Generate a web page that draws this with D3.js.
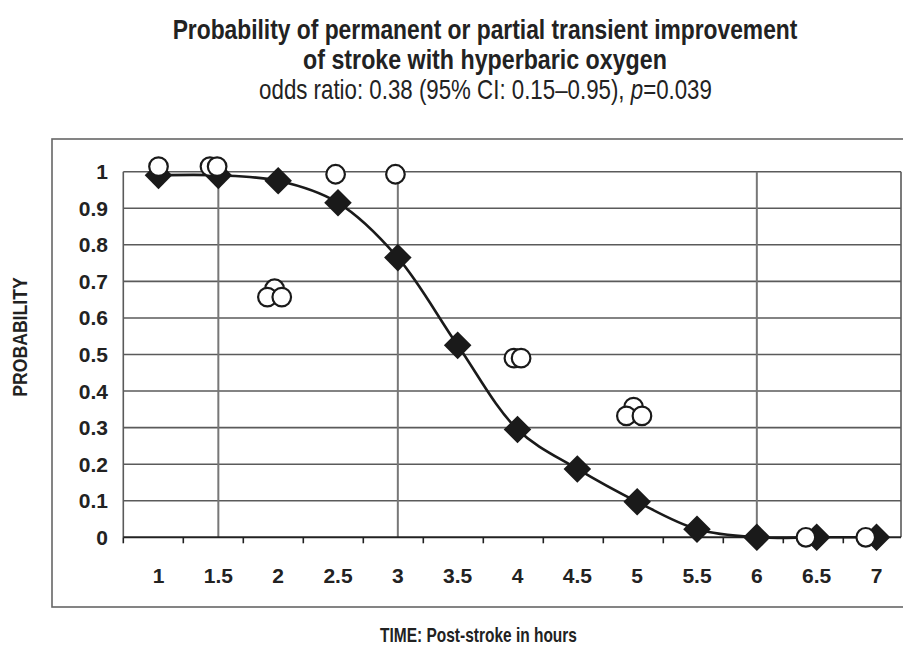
<!DOCTYPE html>
<html>
<head>
<meta charset="utf-8">
<script src="https://cdn.jsdelivr.net/npm/d3@7"></script>
<style>
  html, body { margin: 0; padding: 0; background: #fff; }
  svg { display: block; }
  .narrow { font-family: "Liberation Sans", Arial, sans-serif; }
  .tick-lbl { font-family: "Liberation Sans", Arial, sans-serif; font-weight: bold; font-size: 21px; fill: #222; }
</style>
</head>
<body>
<svg id="chart" width="903" height="646"></svg>
<script>
// -----------------------------------------------------------------------------
// Hyperbaric oxygen stroke improvement: fitted probability vs observed points
// -----------------------------------------------------------------------------

const TIMES = [1, 1.5, 2, 2.5, 3, 3.5, 4, 4.5, 5, 5.5, 6, 6.5, 7];
const TIME_LABELS = ["1", "1.5", "2", "2.5", "3", "3.5", "4", "4.5", "5", "5.5", "6", "6.5", "7"];

// fitted logistic curve (filled diamonds)
const FIT_PROB = [0.99, 0.99, 0.975, 0.915, 0.765, 0.525, 0.295, 0.187, 0.097, 0.022, 0, 0, 0];

// observed patients (open circles), slightly jittered in time
const OBS_TIME = [1.0, 1.43, 1.49, 1.97, 1.91, 2.03, 2.48, 2.98, 3.97, 4.03, 4.97, 4.91, 5.04, 6.41, 6.91];
const OBS_PROB = [1.014, 1.014, 1.014, 0.68, 0.657, 0.657, 0.993, 0.993, 0.49, 0.49, 0.356, 0.332, 0.332, 0, 0];

const Y_TICKS = [0, 0.1, 0.2, 0.3, 0.4, 0.5, 0.6, 0.7, 0.8, 0.9, 1];
const Y_LABELS = ["0", "0.1", "0.2", "0.3", "0.4", "0.5", "0.6", "0.7", "0.8", "0.9", "1"];
const REF_TIMES = [1.5, 3, 6];   // vertical reference lines

const TITLE_LINES = [
  "Probability of permanent or partial transient improvement",
  "of stroke with hyperbaric oxygen",
];

const PLOT = { left: 123.3, right: 901, top: 171.7, bottom: 537.3 };

const svg = d3.select("#chart");

const x = d3.scaleLinear().domain([1, 7]).range([158.5, 876.5]);
const xBand = d3.scaleBand().domain(TIMES).range([PLOT.left, PLOT.left + 60 * TIMES.length]);
const y = d3.scaleLinear().domain([0, 1]).range([PLOT.bottom, PLOT.top]);

// the original uses a condensed face; squeeze a regular one to the same width
function condensed(g, cx, cy, targetW, rotate) {
  const w = g.node().getBBox().width;
  const k = targetW / w;
  g.attr("transform", `translate(${cx},${cy})` + (rotate ? ` rotate(${rotate})` : "") + ` scale(${k},1)`);
}

// outer frame
svg.append("rect")
  .attr("x", 52).attr("y", 139).attr("width", 870).attr("height", 468)
  .attr("fill", "none").attr("stroke", "#666").attr("stroke-width", 1.6);

// titles
const TITLE_W = [625, 364];
TITLE_LINES.forEach((t, i) => {
  const g = svg.append("g");
  g.append("text").attr("class", "narrow")
    .attr("text-anchor", "middle").attr("fill", "#222")
    .attr("font-weight", "bold").attr("font-size", 27).text(t);
  condensed(g, 485, 39 + i * 30, TITLE_W[i]);
});
const subG = svg.append("g");
const sub = subG.append("text").attr("class", "narrow")
  .attr("text-anchor", "middle").attr("font-size", 27).attr("fill", "#222");
sub.append("tspan").text("odds ratio: 0.38 (95% CI: 0.15\u20130.95), ");
sub.append("tspan").attr("font-style", "italic").text("p");
sub.append("tspan").text("=0.039");
condensed(subG, 485.5, 99, 453);

// horizontal gridlines
svg.append("g").selectAll("line").data(Y_TICKS.filter((d) => d > 0)).join("line")
  .attr("x1", PLOT.left).attr("x2", PLOT.right)
  .attr("y1", (d) => y(d)).attr("y2", (d) => y(d))
  .attr("stroke", "#5a5a5a").attr("stroke-width", 1.6);

// left and right plot borders
svg.append("g").selectAll("line").data([PLOT.left, PLOT.right]).join("line")
  .attr("x1", (d) => d).attr("x2", (d) => d)
  .attr("y1", y(1)).attr("y2", y(0))
  .attr("stroke", "#5a5a5a").attr("stroke-width", 1.6);

// vertical reference lines
svg.append("g").selectAll("line").data(REF_TIMES).join("line")
  .attr("x1", (d) => x(d)).attr("x2", (d) => x(d))
  .attr("y1", y(1)).attr("y2", y(0))
  .attr("stroke", "#777").attr("stroke-width", 2);

// x axis line with between-category tick marks
const xAxis = svg.append("g");
xAxis.append("line")
  .attr("x1", PLOT.left).attr("x2", PLOT.right)
  .attr("y1", y(0)).attr("y2", y(0))
  .attr("stroke", "#222").attr("stroke-width", 2);
xAxis.selectAll("line.tk").data(TIMES).join("line").attr("class", "tk")
  .attr("x1", (d) => xBand(d)).attr("x2", (d) => xBand(d))
  .attr("y1", y(0)).attr("y2", y(0) + 6)
  .attr("stroke", "#222").attr("stroke-width", 1.6);
xAxis.selectAll("text").data(TIMES).join("text").attr("class", "tick-lbl")
  .attr("x", (d) => x(d)).attr("y", y(0) + 46)
  .attr("text-anchor", "middle")
  .text((d, i) => TIME_LABELS[i]);

// y labels
svg.append("g").selectAll("text").data(Y_TICKS).join("text").attr("class", "tick-lbl")
  .attr("x", 108).attr("y", (d) => y(d) + 7.5)
  .attr("text-anchor", "end")
  .text((d, i) => Y_LABELS[i]);

// axis titles
const yTitle = svg.append("g");
yTitle.append("text").attr("class", "narrow")
  .attr("text-anchor", "middle").attr("font-weight", "bold").attr("font-size", 20)
  .attr("fill", "#222").text("PROBABILITY");
condensed(yTitle, 27, 337, 120, -90);

const xTitle = svg.append("g");
xTitle.append("text").attr("class", "narrow")
  .attr("text-anchor", "middle").attr("font-weight", "bold").attr("font-size", 20)
  .attr("fill", "#222").text("TIME: Post-stroke in hours");
condensed(xTitle, 478.5, 642, 197);

// fitted curve
const fit = TIMES.map((t, i) => ({ t, p: FIT_PROB[i] }));
svg.append("path")
  .attr("d", d3.line().x((d) => x(d.t)).y((d) => y(d.p)).curve(d3.curveCatmullRom.alpha(0.5))(fit))
  .attr("fill", "none").attr("stroke", "#1a1a1a").attr("stroke-width", 2.6);

svg.append("g").selectAll("path").data(fit).join("path")
  .attr("transform", (d) => `translate(${x(d.t)},${y(d.p)}) rotate(45)`)
  .attr("d", d3.symbol(d3.symbolSquare, 380)())
  .attr("fill", "#1a1a1a");

// observed points
const obs = OBS_TIME.map((t, i) => ({ t, p: OBS_PROB[i] }));
svg.append("g").selectAll("circle").data(obs).join("circle")
  .attr("cx", (d) => x(d.t)).attr("cy", (d) => y(d.p)).attr("r", 9.3)
  .attr("fill", "#fff").attr("stroke", "#1a1a1a").attr("stroke-width", 2.2);
</script>
</body>
</html>
